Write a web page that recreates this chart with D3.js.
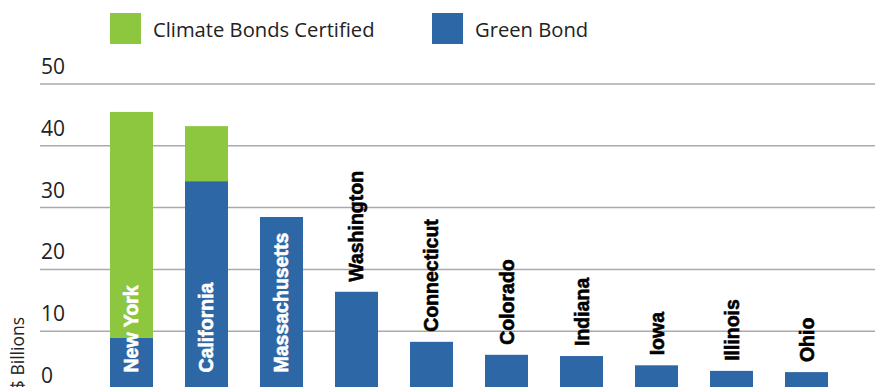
<!DOCTYPE html>
<html>
<head>
<meta charset="utf-8">
<script src="https://cdn.jsdelivr.net/npm/d3@7"></script>
<style>
  html, body { margin: 0; padding: 0; background: #fff; overflow: hidden; }
  svg { display: block; }
</style>
</head>
<body>
<svg id="chart" width="875" height="387"></svg>
<script>
// ---- Data ----
const categories = ["New York", "California", "Massachusetts", "Washington", "Connecticut",
                    "Colorado", "Indiana", "Iowa", "Illinois", "Ohio"];
const greenBond = [8.9, 34.2, 28.4, 16.3, 8.2, 6.1, 5.9, 4.4, 3.5, 3.3];
const climateBondsCertified = [36.5, 8.9, 0, 0, 0, 0, 0, 0, 0, 0];
const seriesNames = ["Green Bond", "Climate Bonds Certified"];
const yTicks = [0, 10, 20, 30, 40, 50];
const yTitle = "$ Billions";

// ---- Setup ----
const W = 875, H = 387;
const colors = { "Green Bond": "#2e67a6", "Climate Bonds Certified": "#8dc63f" };
const svg = d3.select("#chart");

const rows = categories.map((c, i) => ({
  category: c,
  "Green Bond": greenBond[i],
  "Climate Bonds Certified": climateBondsCertified[i]
}));

const x = d3.scaleBand()
  .domain(categories)
  .range([94, 844])
  .paddingInner(0.4267)
  .paddingOuter(0.2133);

const y = d3.scaleLinear().domain([0, 50]).range([392.5, 83.5]);

// ---- Grid + tick labels via axis ----
const axis = svg.append("g")
  .attr("transform", "translate(40,0)")
  .call(d3.axisLeft(y).tickValues(yTicks).tickSize(-(W - 40)).tickFormat(d3.format("d")));
axis.select(".domain").remove();
axis.selectAll(".tick line")
  .attr("stroke", "#a9a9b1")
  .attr("stroke-width", 1.5);
axis.selectAll(".tick text")
  .attr("x", 1)
  .attr("dy", -10)
  .attr("text-anchor", "start")
  .attr("fill", "#222")
  .style("font-family", "'Open Sans', sans-serif")
  .style("font-size", "21px")
  .style("font-weight", 400);

// ---- Y title ----
svg.append("text")
  .attr("transform", "translate(24,317) rotate(-90)")
  .attr("text-anchor", "end")
  .attr("fill", "#222")
  .style("font-family", "'Open Sans', sans-serif")
  .style("font-size", "17.5px")
  .text(yTitle);

// ---- Bars ----
const stack = d3.stack().keys(seriesNames);
const layers = stack(rows);

svg.append("g").selectAll("g")
  .data(layers)
  .join("g")
  .attr("fill", d => colors[d.key])
  .selectAll("rect")
  .data(d => d.filter(s => s[1] - s[0] > 0))
  .join("rect")
  .attr("x", d => x(d.data.category))
  .attr("width", x.bandwidth())
  .attr("y", d => y(d[1]))
  .attr("height", d => y(d[0]) - y(d[1]));

// ---- Category labels ----
const totals = rows.map(r => r["Green Bond"] + r["Climate Bonds Certified"]);
svg.append("g").selectAll("text")
  .data(rows)
  .join("text")
  .attr("transform", (d, i) => {
    const cx = x(d.category) + x.bandwidth() / 2 + 7;
    const inside = totals[i] > 20;
    const ty = inside ? y(0) - 20 : y(totals[i]) - 10;
    return `translate(${cx},${ty}) rotate(-90)`;
  })
  .attr("text-anchor", "start")
  .attr("fill", (d, i) => totals[i] > 20 ? "#fff" : "#000")
  .attr("stroke", (d, i) => totals[i] > 20 ? "#fff" : "#000")
  .attr("stroke-width", 0.6)
  .style("font-family", "'Liberation Sans', Arial, sans-serif")
  .style("font-weight", 700)
  .style("font-size", "19.5px")
  .text(d => d.category);

// ---- Legend ----
const legendItems = [
  { name: "Climate Bonds Certified", x: 110 },
  { name: "Green Bond", x: 432 }
];
const lg = svg.append("g").selectAll("g")
  .data(legendItems)
  .join("g")
  .attr("transform", d => `translate(${d.x},13)`);
lg.append("rect")
  .attr("width", 31).attr("height", 31)
  .attr("fill", d => colors[d.name]);
lg.append("text")
  .attr("x", 43).attr("y", 24)
  .attr("fill", "#222")
  .style("font-family", "'Open Sans', sans-serif")
  .style("font-size", "20.2px")
  .text(d => d.name);
</script>
</body>
</html>
